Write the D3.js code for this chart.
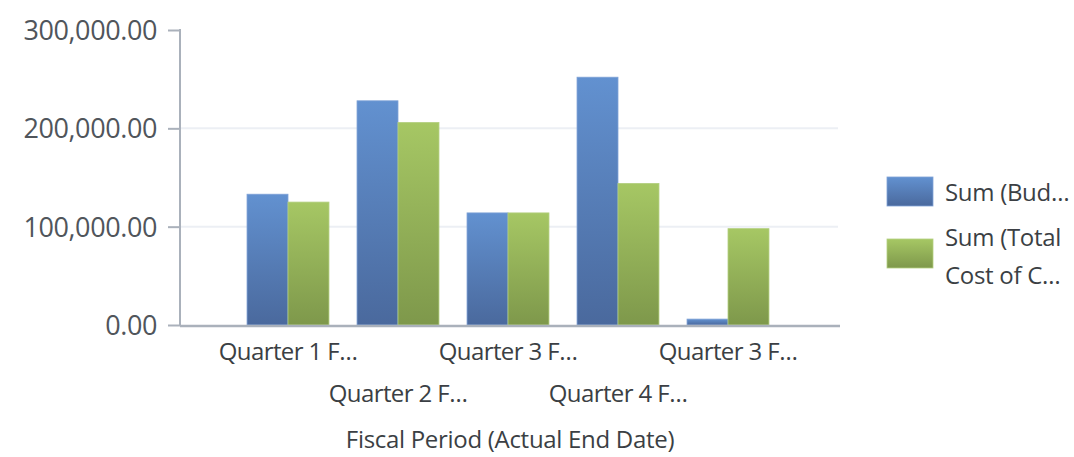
<!DOCTYPE html>
<html><head><meta charset="utf-8">
<script src="https://cdn.jsdelivr.net/npm/d3@7/dist/d3.min.js"></script>
<style>body{margin:0;background:#fff;}svg{display:block;font-family:"Open Sans","Noto Sans",sans-serif;}</style>
</head><body>
<svg id="c" width="1074" height="457"></svg>
<script>
const categories = ["Quarter 1 F…","Quarter 2 F…","Quarter 3 F…","Quarter 4 F…","Quarter 3 F…"];
const budget = [133000, 228000, 114000, 252000, 6000];
const totalCost = [125000, 206000, 114000, 144000, 98000];
const seriesNames = [["Sum (Bud…"], ["Sum (Total", "Cost of C…"]];
const yTicks = [0, 100000, 200000, 300000];
const axisTitle = "Fiscal Period (Actual End Date)";

const svg = d3.select("#c");
const defs = svg.append("defs");
function grad(id, top, bot){
  const g = defs.append("linearGradient").attr("id", id).attr("x1",0).attr("y1",0).attr("x2",0).attr("y2",1);
  g.append("stop").attr("offset","0%").attr("stop-color",top);
  g.append("stop").attr("offset","100%").attr("stop-color",bot);
}
grad("gb", "#6291d0", "#4a699d");
grad("gg", "#a6c764", "#7e984b");

const y = d3.scaleLinear().domain([0,300000]).range([325,30]);
const idx = categories.map((d,i)=>i);
const x = d3.scaleBand().domain(idx).range([233,783]).paddingInner(0.255).paddingOuter(0.1275);
const xs = d3.scaleBand().domain([0,1]).range([0, x.bandwidth()]);

// gridlines
svg.append("g").selectAll("line").data(yTicks.filter(t=>t>0 && t<300000)).join("line")
  .attr("x1",181).attr("x2",838).attr("y1",d=>y(d)).attr("y2",d=>y(d))
  .attr("stroke","#eceff4").attr("stroke-width",2);

// y axis
const yAxis = d3.axisLeft(y).tickValues(yTicks).tickSize(12).tickPadding(11)
  .tickFormat(d=>d3.format(",.2f")(d));
const gy = svg.append("g").attr("transform","translate(180,0)").call(yAxis);
gy.select(".domain").attr("stroke","#aab1bb").attr("stroke-width",2).attr("d","M0,325V30H-1");
gy.selectAll(".tick line").attr("stroke","#aab1bb").attr("stroke-width",2);
gy.selectAll(".tick text").attr("fill","#50555b").style("font-size","27px")
  .style("letter-spacing","-0.4px")
  .style("font-family","'Open Sans',sans-serif").attr("dy","0.35em");

// bars
const series = [budget, totalCost];
const fills = ["url(#gb)","url(#gg)"];
series.forEach((vals, s)=>{
  svg.append("g").selectAll("rect").data(vals).join("rect")
    .attr("x",(d,i)=>x(i)+xs(s)).attr("width",xs.bandwidth())
    .attr("y",d=>y(d)).attr("height",d=>y(0)-y(d))
    .attr("fill",fills[s])
    .attr("stroke", s===0 ? "#7fa2d6" : "#b3cf80").attr("stroke-width",0.8);
});

// x axis baseline
svg.append("line").attr("x1",180).attr("x2",840).attr("y1",y(0)+1).attr("y2",y(0)+1)
  .attr("stroke","#aab1bb").attr("stroke-width",2.5);

const txt = "#3b3f44";
// x labels
svg.append("g").selectAll("text").data(categories).join("text")
  .attr("x",(d,i)=>x(i)+x.bandwidth()/2)
  .attr("y",(d,i)=> i%2===0 ? 360 : 402)
  .attr("text-anchor","middle").attr("fill",txt).style("font-size","24px")
  .style("letter-spacing","-0.6px")
  .text(d=>d);

svg.append("text").attr("x",510).attr("y",448).attr("text-anchor","middle")
  .attr("fill",txt).style("font-size","24px").style("letter-spacing","-0.3px").text(axisTitle);

// legend
const lg = svg.append("g");
const legY = [177, 239];
lg.selectAll("rect").data(fills).join("rect")
  .attr("x",887).attr("y",(d,i)=>legY[i]).attr("width",46).attr("height",29)
  .attr("fill",d=>d).attr("stroke",(d,i)=> i===0 ? "#7fa2d6" : "#b3cf80").attr("stroke-width",0.8);
const textY = [[201],[246,284]];
seriesNames.forEach((lines, s)=>{
  lines.forEach((t, k)=>{
    lg.append("text").attr("x",945).attr("y",textY[s][k]).attr("fill",txt)
      .style("font-size","24px").style("letter-spacing","-0.3px").text(t);
  });
});
</script>
</body></html>
